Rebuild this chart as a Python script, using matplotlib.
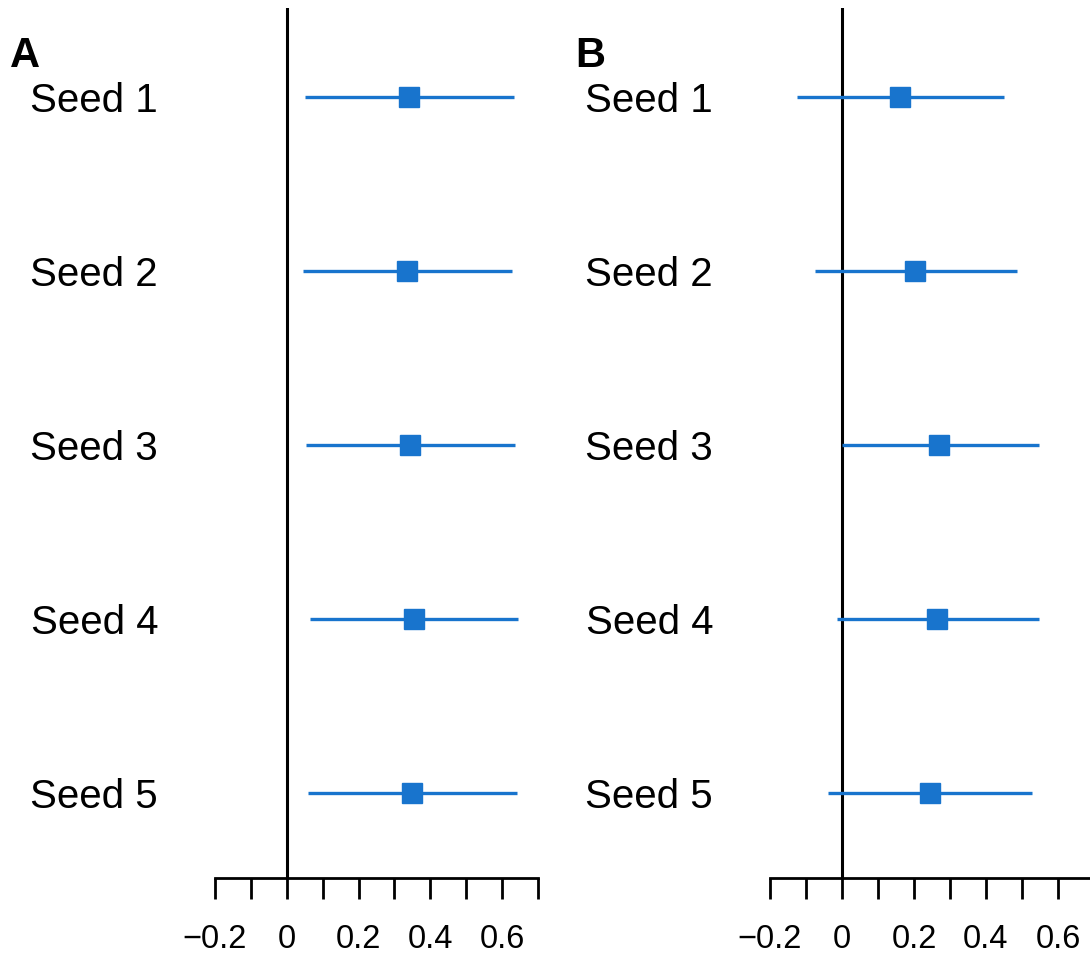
import matplotlib
matplotlib.use("Agg")
import matplotlib.pyplot as plt

plt.rcParams['font.family'] = ['Liberation Sans', 'DejaVu Sans']

labels = ["Seed 1", "Seed 2", "Seed 3", "Seed 4", "Seed 5"]
a_est = [0.341, 0.335, 0.344, 0.355, 0.349]
a_lo = [0.050, 0.045, 0.053, 0.064, 0.059]
a_hi = [0.634, 0.628, 0.637, 0.645, 0.642]
b_est = [0.162, 0.203, 0.270, 0.265, 0.245]
b_lo = [-0.125, -0.075, 0.000, -0.014, -0.039]
b_hi = [0.449, 0.485, 0.546, 0.546, 0.529]
xticks = [-0.2, -0.1, 0.0, 0.1, 0.2, 0.3, 0.4, 0.5, 0.6, 0.7]
xticklabels = ["\u22120.2", "", "0", "", "0.2", "", "0.4", "", "0.6", ""]

W, H = 1090, 956
fig = plt.figure(figsize=(W / 100, H / 100), dpi=100)
color = "#1874CD"

def panel(left_px, right_px, est, lo, hi, letter, letter_x):
    ax = fig.add_axes([left_px / W, (H - 878) / H, (right_px - left_px) / W, 870 / H])
    ax.set_xlim(-0.2, 0.7)
    ax.set_ylim(5.4885, 0.4885)
    ys = list(range(1, len(labels) + 1))
    ax.axvline(0, color="black", lw=2.2, zorder=1)
    ax.hlines(ys, lo, hi, color=color, lw=2.4, zorder=2)
    ax.plot(est, ys, ls="none", marker="s", ms=13.7, color=color, zorder=3)
    for s in ["top", "right", "left"]:
        ax.spines[s].set_visible(False)
    ax.spines["bottom"].set_linewidth(2.0)
    ax.set_xticks(xticks)
    ax.set_xticklabels(xticklabels, fontsize=23.5)
    ax.tick_params(axis="x", length=15, width=2.0, pad=18)
    ax.set_yticks(ys)
    ax.set_yticklabels(labels, fontsize=29)
    ax.tick_params(axis="y", length=0, pad=41)
    fig.text(letter_x / W, (H - 67) / H, letter, fontsize=30, fontweight="bold",
             ha="left", va="baseline")
    return ax

panel(215, 538, a_est, a_lo, a_hi, "A", 10)
panel(770, 1094, b_est, b_lo, b_hi, "B", 575)

fig.savefig("out.png", dpi=100)
